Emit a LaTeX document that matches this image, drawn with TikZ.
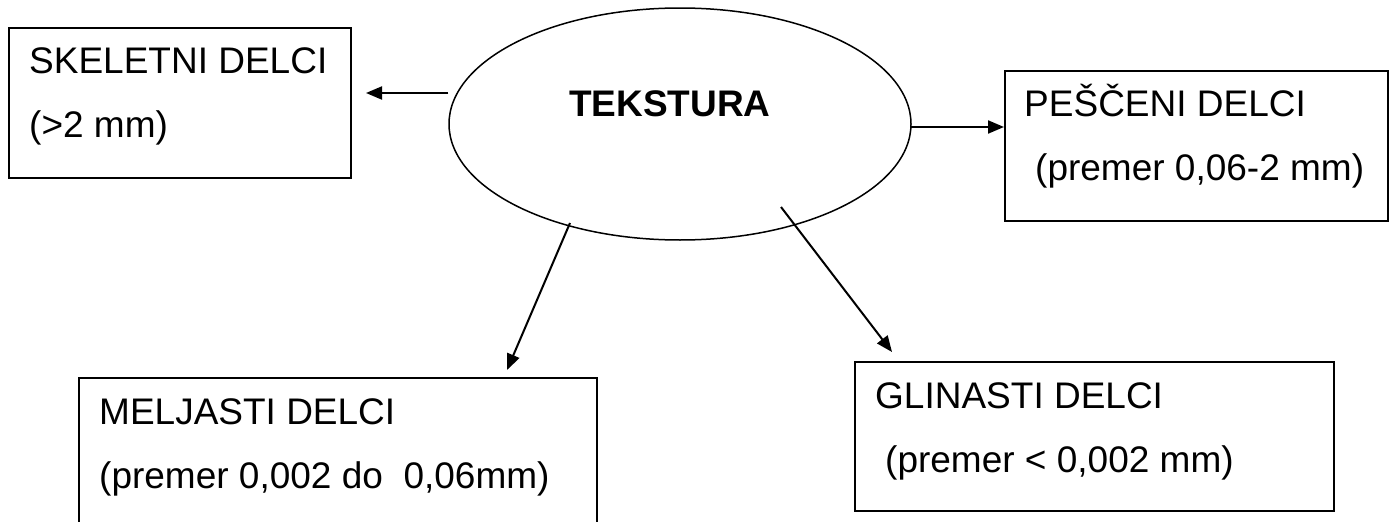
\documentclass[tikz,border=0pt]{standalone}
\usepackage{fontspec}
\setmainfont{Liberation Sans}
\usetikzlibrary{shapes.geometric,arrows.meta}
\tikzset{
  box/.style={draw, line width=2pt, rectangle, inner sep=0pt},
  oval/.style={draw, line width=1.5pt, ellipse, inner sep=0pt},
  txt/.style={anchor=base west, inner sep=0pt, font=\fontsize{37}{44}\selectfont},
  bold/.style={txt, font=\fontsize{37}{44}\selectfont\bfseries},
  arr/.style={line width=2pt, -{Triangle[length=16pt,width=13pt]}}
}
\begin{document}
\begin{tikzpicture}[x=1pt,y=-1pt]
\useasboundingbox (0,0) rectangle (1392,522);
% boxes
\node[box, minimum width=342pt, minimum height=150pt] (skel) at (180,103) {};
\node[box, minimum width=383pt, minimum height=150pt] (pes) at (1196.5,146) {};
\node[box, minimum width=518pt, minimum height=166pt] (melj) at (338,461) {};
\node[box, minimum width=479pt, minimum height=149pt] (glin) at (1094.5,436.5) {};
\node[oval, minimum width=462pt, minimum height=232pt] (ell) at (680,124) {};
% texts
\node[txt] (skel1) at (29,73) {SKELETNI DELCI};
\node[txt] (skel2) at (29,137) {(>2 mm)};
\node[bold] (tek) at (569,116) {TEKSTURA};
\node[txt] (pes1) at (1024,116) {PEŠČENI DELCI};
\node[txt] (pes2) at (1035,180) {(premer 0,06-2 mm)};
\node[txt] (melj1) at (99,424) {MELJASTI DELCI};
\node[txt] (melj2) at (99,488) {(premer 0,002 do\ \ 0,06mm)};
\node[txt] (glin1) at (875,408) {GLINASTI DELCI};
\node[txt] (glin2) at (885,472) {(premer < 0,002 mm)};
% arrow ends
\coordinate (t1) at (366,93);
\coordinate (s2) at (911,127);
\coordinate (s3) at (570,223);
\coordinate (t3) at (507,370);
\coordinate (s4) at (781,207);
\coordinate (t4) at (892,352);
% connectors
\draw[arr] (ell.west |- t1) -- (t1);
\draw[arr] (s2) -- (s2 -| pes.west);
\draw[arr] (s3) -- (t3);
\draw[arr] (s4) -- (t4);
\end{tikzpicture}
\end{document}
